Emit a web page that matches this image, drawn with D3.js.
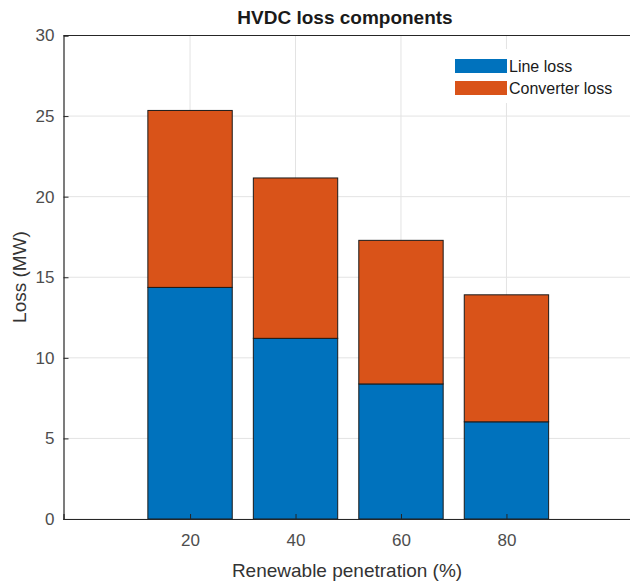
<!DOCTYPE html>
<html>
<head>
<meta charset="utf-8">
<script src="https://cdn.jsdelivr.net/npm/d3@7"></script>
<style>
  html, body { margin: 0; padding: 0; background: #fff; }
  svg { display: block; font-family: "Liberation Sans", Arial, sans-serif; }
</style>
</head>
<body>
<svg id="chart" width="630" height="582"></svg>
<script>
// Renewable penetration levels (%)
const categories = [20, 40, 60, 80];
// Loss components (MW)
const lineLoss = [14.37, 11.21, 8.38, 6.03];
const converterLoss = [10.98, 9.95, 8.91, 7.88];
const seriesNames = ["Line loss", "Converter loss"];
const seriesColors = ["#0072BD", "#D95319"];
const yTicks = [0, 5, 10, 15, 20, 25, 30];
const xTicks = [20, 40, 60, 80];

const svg = d3.select("#chart");
const plotLeft = 63.5, plotRight = 633, plotTop = 35.5, plotBottom = 519;

const x = d3.scaleLinear().domain([-4, 104]).range([plotLeft, plotRight]);
const y = d3.scaleLinear().domain([0, 30]).range([plotBottom, plotTop]);
const barWidth = x(16) - x(0);

const rows = categories.map((c, i) => ({ cat: c, line: lineLoss[i], conv: converterLoss[i] }));
const stacked = d3.stack().keys(["line", "conv"])(rows);

// grid
const grid = svg.append("g");
grid.selectAll("line.gx").data(xTicks).join("line")
  .attr("x1", d => x(d)).attr("x2", d => x(d))
  .attr("y1", plotTop).attr("y2", plotBottom)
  .attr("stroke", "#e3e3e3").attr("stroke-width", 1);
grid.selectAll("line.gy").data(yTicks).join("line")
  .attr("x1", plotLeft).attr("x2", plotRight)
  .attr("y1", d => y(d)).attr("y2", d => y(d))
  .attr("stroke", "#e3e3e3").attr("stroke-width", 1);

// stacked bars
svg.append("g").selectAll("g").data(stacked).join("g")
  .attr("fill", (d, i) => seriesColors[i])
  .selectAll("rect").data(d => d).join("rect")
  .attr("x", d => x(d.data.cat) - barWidth / 2)
  .attr("width", barWidth)
  .attr("y", d => y(d[1]))
  .attr("height", d => y(d[0]) - y(d[1]))
  .attr("stroke", "#1a1a1a").attr("stroke-width", 1);

// axes (ticks point inward)
const yAxis = d3.axisLeft(y).tickValues(yTicks).tickSize(-5).tickPadding(9);
const xAxis = d3.axisBottom(x).tickValues(xTicks).tickSize(-5).tickPadding(15);

const gy = svg.append("g").attr("transform", `translate(${plotLeft},0)`).call(yAxis);
const gx = svg.append("g").attr("transform", `translate(0,${plotBottom})`).call(xAxis);
[gx, gy].forEach(g => {
  g.select(".domain").attr("stroke", "#262626").attr("stroke-width", 1.2);
  g.selectAll(".tick line").attr("stroke", "#262626");
  g.selectAll(".tick text").attr("fill", "#4d4d4d").style("font-size", "17px")
    .style("font-family", "'Liberation Sans', Arial, sans-serif");
});
// top border
svg.append("line").attr("x1", plotLeft).attr("x2", plotRight).attr("y1", plotTop).attr("y2", plotTop)
  .attr("stroke", "#262626").attr("stroke-width", 1.2);

// title and labels
svg.append("text").attr("x", 345).attr("y", 24).attr("text-anchor", "middle")
  .style("font-size", "19px").style("font-weight", "bold").attr("fill", "#1a1a1a")
  .text("HVDC loss components");
svg.append("text").attr("x", 347).attr("y", 577).attr("text-anchor", "middle")
  .style("font-size", "19px").attr("fill", "#333")
  .text("Renewable penetration (%)");
svg.append("text").attr("transform", "translate(26,277) rotate(-90)").attr("text-anchor", "middle")
  .style("font-size", "19px").attr("fill", "#333")
  .text("Loss (MW)");

// legend
const lg = svg.append("g").attr("transform", "translate(446,49)");
lg.append("rect").attr("width", 172).attr("height", 54).attr("fill", "#fff");
seriesNames.forEach((name, i) => {
  lg.append("rect").attr("x", 9).attr("y", 10 + i * 22).attr("width", 52).attr("height", 14)
    .attr("fill", seriesColors[i]);
  lg.append("text").attr("x", 63).attr("y", 23 + i * 22)
    .style("font-size", "16px").attr("fill", "#1a1a1a").text(name);
});
</script>
</body>
</html>
